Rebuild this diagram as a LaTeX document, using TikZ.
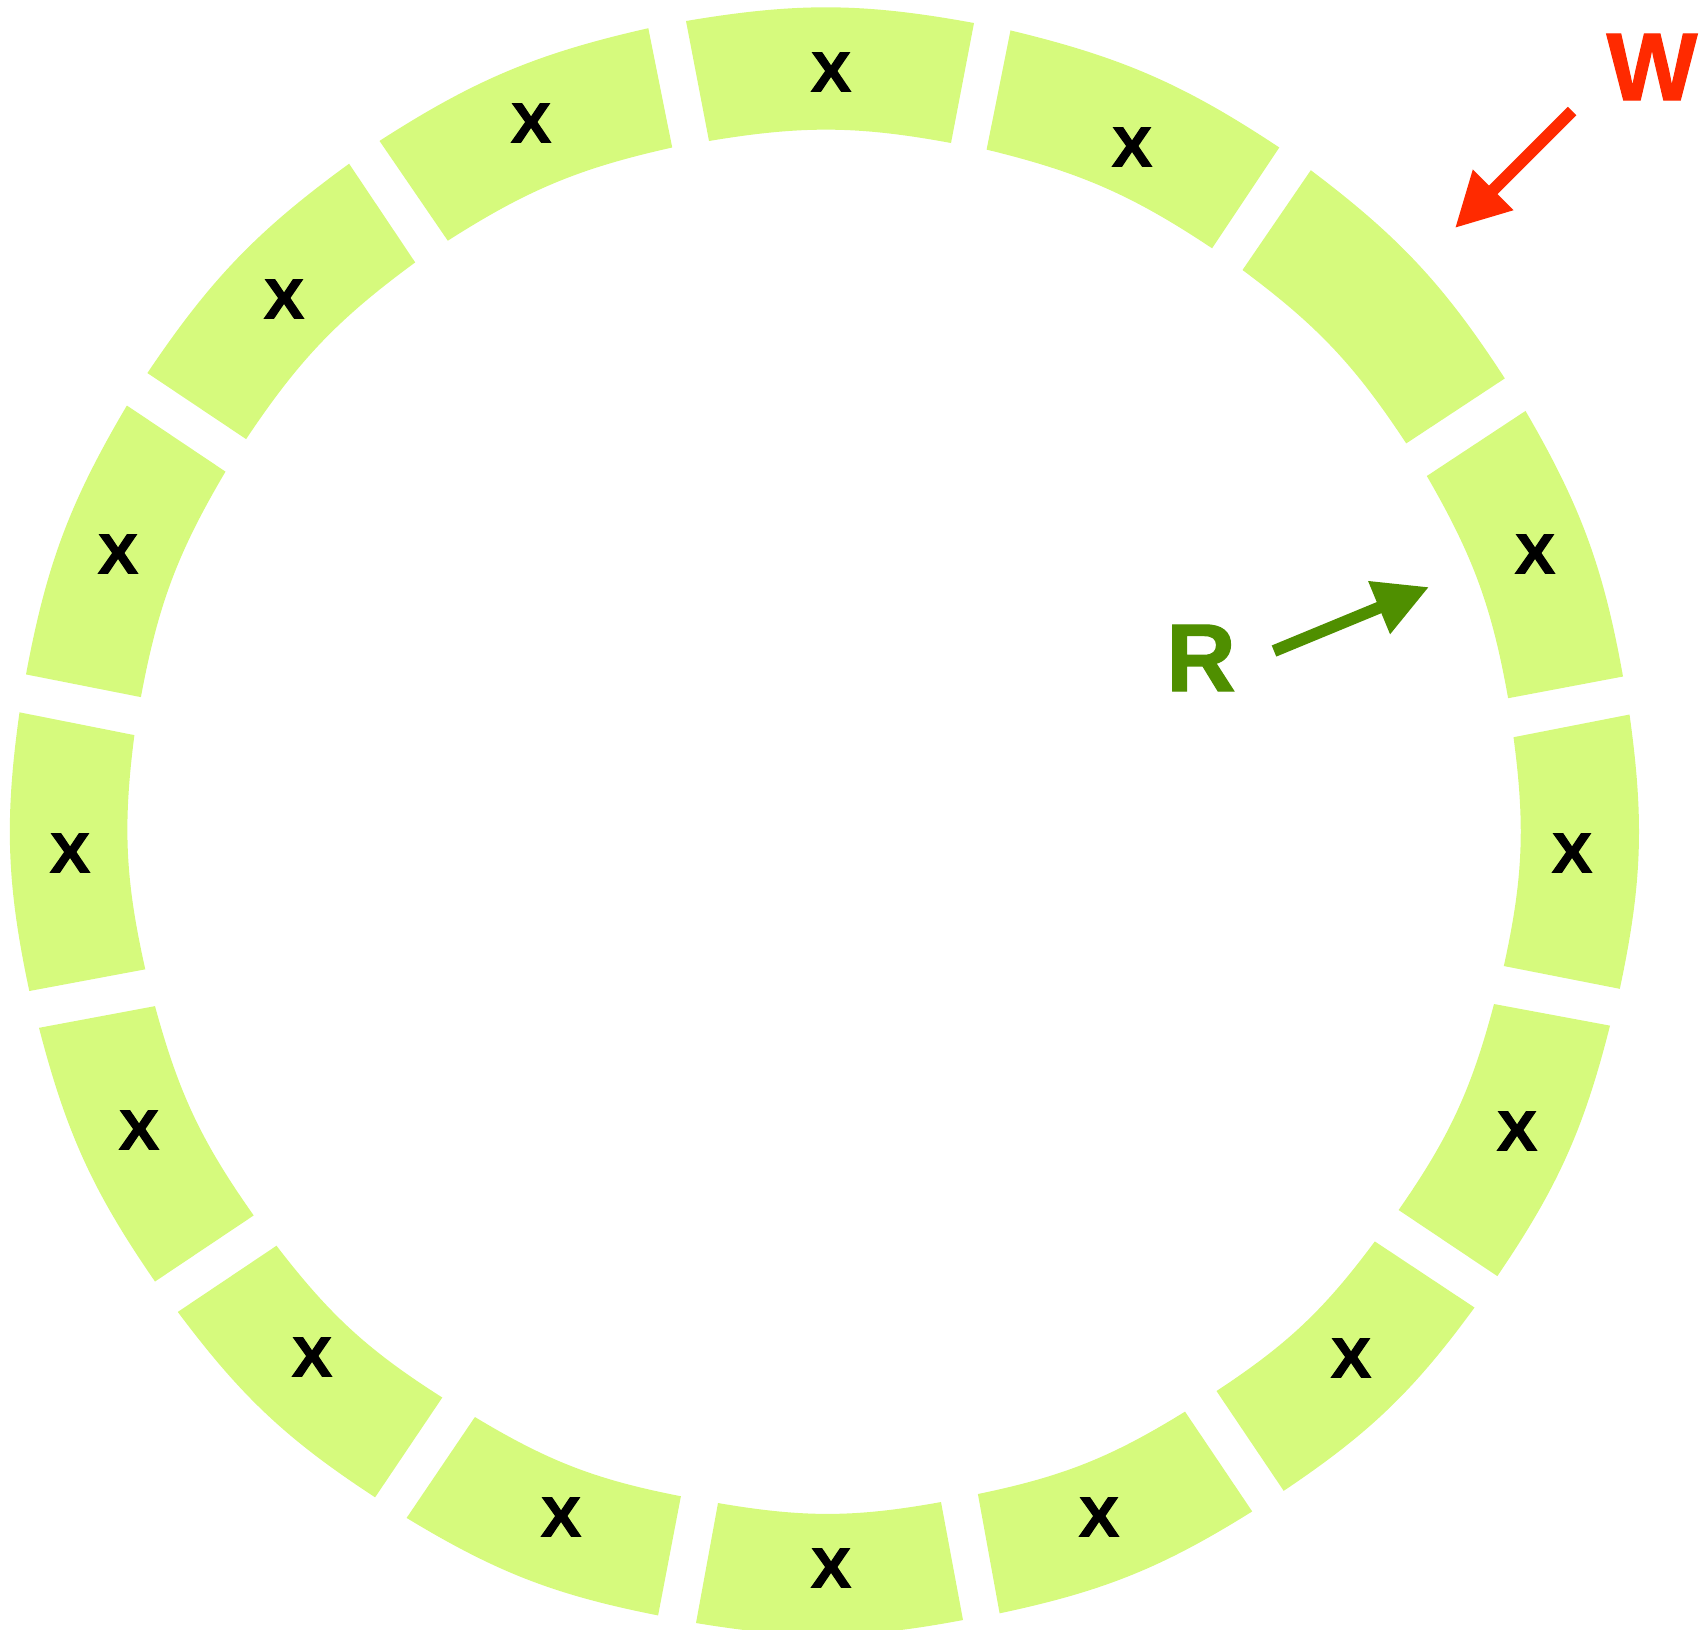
\documentclass[tikz,border=0pt]{standalone}
\usepackage{fontspec}
\setmainfont{Liberation Sans}
\newfontfamily\xfont{Liberation Sans Bold}[FakeBold=2]
\newfontfamily\bigfont{Liberation Sans Bold}[FakeBold=1.2]
\usetikzlibrary{arrows.meta}
\definecolor{segcol}{HTML}{D6FA7D}
\definecolor{wred}{HTML}{FF2A00}
\definecolor{rgreen}{HTML}{4F8F00}
\newcommand\ringseg[4]{\fill[segcol] (#1) to[bend left=10] (#2) -- (#3) to[bend right=10] (#4) -- cycle;}
\newcommand\xmark{\scalebox{1.07}[1]{X}}
\begin{document}
\begin{tikzpicture}[x=0.01cm,y=-0.01cm,
  xlab/.style={font=\xfont\fontsize{15.9pt}{17pt}\selectfont, inner sep=0pt},
  biglab/.style={font=\bigfont\fontsize{27.4pt}{30pt}\selectfont, inner sep=0pt},
  pointer/.style={line width=0.12cm, -{Triangle[length=0.54cm,width=0.54cm]}}]
\useasboundingbox (0,0) rectangle (1700,1629);
\clip (0,0) rectangle (1700,1629);
% ring segments: outer A, outer B, inner B, inner A (clockwise)
\ringseg{686,21}{974,23}{951,143}{709,141}
\ringseg{1010.5,30.4}{1279.3,147.5}{1212.1,248.3}{986.6,149.6}
\ringseg{1310.8,170.2}{1504.8,378.4}{1406.2,443.4}{1242.5,270.0}
\ringseg{1525.5,410.9}{1623.0,676.5}{1508.1,698.2}{1426.8,476.0}
\ringseg{1629.5,714.5}{1619.8,988.8}{1503.8,966.0}{1513.5,737.2}
\ringseg{1610.0,1025.6}{1497.3,1276.1}{1398.6,1210.0}{1494.0,1004.0}
\ringseg{1474.5,1307.5}{1283.7,1490.8}{1216.5,1391.0}{1374.8,1241.4}
\ringseg{1252.2,1511.4}{999.6,1613.3}{977.9,1494.0}{1185.0,1411.6}
\ringseg{963,1620}{696,1623}{718,1503}{941,1502}
\ringseg{658.1,1615.4}{406.6,1517.9}{474.9,1417.0}{680.9,1496.2}
\ringseg{375.1,1497.3}{177.8,1311.9}{276.5,1245.7}{442.3,1397.5}
\ringseg{155.0,1281.5}{39.0,1027.8}{155.0,1006.1}{253.7,1215.4}
\ringseg{29.3,991.0}{19.5,712.3}{134.4,735.1}{145.3,969.3}
\ringseg{26.0,674.4}{126.9,405.5}{225.5,471.6}{140.9,697.1}
\ringseg{147.4,373.0}{349.1,163.7}{415.2,262.4}{246.1,439.1}
\ringseg{379.5,140.9}{648.3,28.2}{672.2,147.5}{447.8,240.7}
% labels
\node[xlab] (x1) at (831,72) {\xmark};
\node[xlab] (x2) at (1132,147) {\xmark};
\node[xlab] (x4) at (1535,554) {\xmark};
\node[xlab] (x5) at (1572,853) {\xmark};
\node[xlab] (x6) at (1517,1131) {\xmark};
\node[xlab] (x7) at (1351,1358) {\xmark};
\node[xlab] (x8) at (1099,1517) {\xmark};
\node[xlab] (x9) at (831,1568) {\xmark};
\node[xlab] (x10) at (561,1517) {\xmark};
\node[xlab] (x11) at (312,1357) {\xmark};
\node[xlab] (x12) at (139,1130) {\xmark};
\node[xlab] (x13) at (70,853) {\xmark};
\node[xlab] (x14) at (118,554) {\xmark};
\node[xlab] (x15) at (284,299) {\xmark};
\node[xlab] (x16) at (531,123) {\xmark};
\node[biglab, text=wred] (w) at (1652,67) {W};
\node[biglab, text=rgreen] (r) at (1201,658) {R};
% arrows
\coordinate (wtail) at (1572,111);
\coordinate (wtip) at (1455,228);
\coordinate (rtail) at (1274,651);
\coordinate (rtip) at (1429,587);
\draw[pointer, wred] (wtail) -- (wtip);
\draw[pointer, rgreen] (rtail) -- (rtip);
\end{tikzpicture}
\end{document}
